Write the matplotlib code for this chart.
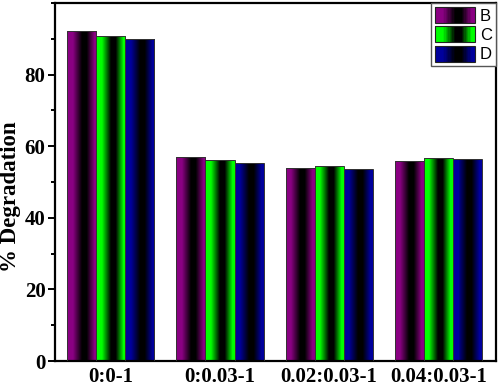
import numpy as np
import matplotlib
matplotlib.use('Agg')
import matplotlib.pyplot as plt
from matplotlib.patches import Rectangle
from matplotlib.legend_handler import HandlerBase
from matplotlib.ticker import MultipleLocator
from matplotlib.colors import to_rgb

# Data
categories = ['0:0-1', '0:0.03-1', '0.02:0.03-1', '0.04:0.03-1']
series_names = ['B', 'C', 'D']
B = [92.2, 57.0, 54.0, 56.0]
C = [90.9, 56.1, 54.5, 56.6]
D = [90.0, 55.2, 53.6, 56.5]
colors = ['#8a0082', '#00ff00', '#00009c']

plt.rcParams['font.family'] = 'Liberation Serif'

N_STRIPS = 30


def shade_profile(n):
    # brightness across the bar: full colour at the edges, black band right of centre
    t = (np.arange(n) + 0.5) / n
    return np.interp(t, [0, 0.2, 0.5, 0.66, 0.92, 1], [1, 1, 0, 0, 1, 1])


def strip_colors(color, n):
    rgb = np.array(to_rgb(color))
    return [f * rgb for f in shade_profile(n)]


class GradientHandler(HandlerBase):
    def create_artists(self, legend, orig_handle, xdescent, ydescent,
                       width, height, fontsize, trans):
        arts = []
        w = width / N_STRIPS
        for i, c in enumerate(strip_colors(orig_handle.get_facecolor()[:3], N_STRIPS)):
            arts.append(Rectangle((-xdescent + i * w, -ydescent), w * 1.1, height,
                                  facecolor=c, edgecolor='none', transform=trans))
        arts.append(Rectangle((-xdescent, -ydescent), width, height,
                              facecolor='none', edgecolor='#222222', lw=0.8,
                              transform=trans))
        return arts


fig = plt.figure(figsize=(4.98, 3.87), dpi=100)
ax = fig.add_axes([0.111, 0.067, 0.885, 0.925])

x = np.arange(len(categories))
width = 0.266
all_vals = [B, C, D]
for k, vals in enumerate(all_vals):
    offs = (k - 1) * width
    cols = strip_colors(colors[k], N_STRIPS)
    sw = width / N_STRIPS
    for xi, v in zip(x, vals):
        x0 = xi + offs - width / 2
        ax.bar(x0 + sw * np.arange(N_STRIPS), v, width=sw * 1.15, align='edge',
               color=cols, edgecolor='none', linewidth=0, zorder=2)
        ax.add_patch(Rectangle((x0, 0), width, v, facecolor='none',
                               edgecolor='#333333', lw=0.7, zorder=3))

ax.set_xlim(-0.51, 3.53)
ax.set_ylim(0, 100)

ax.set_xticks(x)
ax.set_xticklabels(categories, fontsize=15, fontweight='bold')
ax.yaxis.set_major_locator(MultipleLocator(20))
ax.yaxis.set_minor_locator(MultipleLocator(10))
ax.set_yticks([0, 20, 40, 60, 80])
for lab in ax.get_yticklabels():
    lab.set_fontweight('bold')
    lab.set_fontsize(15)
ax.tick_params(axis='x', length=0, pad=4)
ax.tick_params(axis='y', which='major', length=5, width=1.4, direction='out', pad=2)
ax.tick_params(axis='y', which='minor', length=3, width=1.4, direction='out')
fig.text(10.5 / 498, 1 - 197 / 387, '% Degradation', rotation=90,
         ha='center', va='center', fontsize=16.5, fontweight='bold')

for sp in ax.spines.values():
    sp.set_linewidth(1.6)

proxies = [Rectangle((0, 0), 1, 1, facecolor=c) for c in colors]
leg = ax.legend(proxies, series_names, loc='upper right', bbox_to_anchor=(1, 1),
                borderaxespad=0, fancybox=False, framealpha=1,
                handler_map={Rectangle: GradientHandler()},
                prop={'family': 'Liberation Sans', 'size': 12},
                handlelength=2.4, handleheight=1.1, handletextpad=0.3,
                labelspacing=0.15, borderpad=0.25)
leg.get_frame().set_edgecolor('#555555')
leg.get_frame().set_linewidth(1.0)

fig.savefig('out.png', dpi=100)
